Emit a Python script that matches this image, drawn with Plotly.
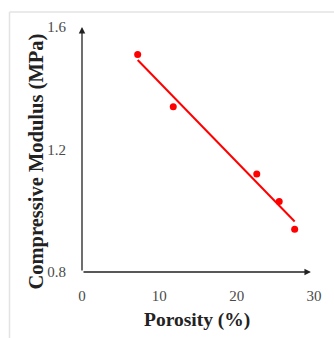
import numpy as np
import plotly.graph_objects as go

porosity = [7.2, 11.8, 22.6, 25.5, 27.5]
modulus = [1.51, 1.34, 1.12, 1.03, 0.94]
x_ticks = [0, 10, 20, 30]
y_ticks = [0.8, 1.2, 1.6]
x_title = "Porosity (%)"
y_title = "Compressive Modulus (MPa)"

slope, intercept = np.polyfit(porosity, modulus, 1)
fit_x = [min(porosity), max(porosity)]
fit_y = [slope * v + intercept for v in fit_x]

fig = go.Figure()
fig.add_trace(go.Scatter(x=fit_x, y=fit_y, mode="lines",
                         line=dict(color="#ff0000", width=2), showlegend=False))
fig.add_trace(go.Scatter(x=porosity, y=modulus, mode="markers",
                         marker=dict(color="#ff0000", size=7), showlegend=False))

font_family = "Liberation Serif"
title_font = dict(family=font_family, size=20.5, color="#222222")
xtitle_font = dict(family=font_family, size=19.5, color="#222222")
fig.update_layout(
    width=334, height=338,
    margin=dict(l=82, r=12, t=27, b=66),
    paper_bgcolor="white", plot_bgcolor="white",
    font=dict(family=font_family),
    xaxis=dict(range=[0, 30], tickvals=x_ticks, showgrid=False, zeroline=False,
               showline=False, ticks="", ticklabelstandoff=13,
               tickfont=dict(family=font_family, size=15, color="#4a4a4a")),
    yaxis=dict(range=[0.8, 1.6], tickvals=y_ticks, tickformat=".1f", showgrid=False,
               zeroline=False, showline=False, ticks="", ticklabelstandoff=15,
               tickfont=dict(family=font_family, size=15, color="#4a4a4a")),
    shapes=[
        dict(type="line", xref="paper", yref="paper", x0=-0.3125, x1=1.1,
             y0=1.0612, y1=1.0612, line=dict(color="#e3e3e3", width=1.5)),
        dict(type="line", xref="paper", yref="paper", x0=-0.3125, x1=-0.3125,
             y0=-0.3, y1=1.0612, line=dict(color="#e3e3e3", width=1.5)),
    ],
    annotations=[
        dict(x=29.6, y=0.8, ax=0, ay=0.8, xref="x", yref="y", axref="x", ayref="y",
             text="", showarrow=True, arrowhead=2, arrowsize=1, arrowwidth=1.3,
             arrowcolor="#222222"),
        dict(x=0, y=1.6, ax=0, ay=0.8, xref="x", yref="y", axref="x", ayref="y",
             text="", showarrow=True, arrowhead=2, arrowsize=1, arrowwidth=1.3,
             arrowcolor="#222222"),
        dict(x=0.494, y=-0.196, xref="paper", yref="paper", text="<b>" + x_title + "</b>",
             showarrow=False, font=xtitle_font, xanchor="center", yanchor="middle"),
        dict(x=-0.196, y=0.449, xref="paper", yref="paper", text="<b>" + y_title + "</b>",
             showarrow=False, font=title_font, textangle=-90,
             xanchor="center", yanchor="middle"),
    ],
)

fig.write_html("out.html")
